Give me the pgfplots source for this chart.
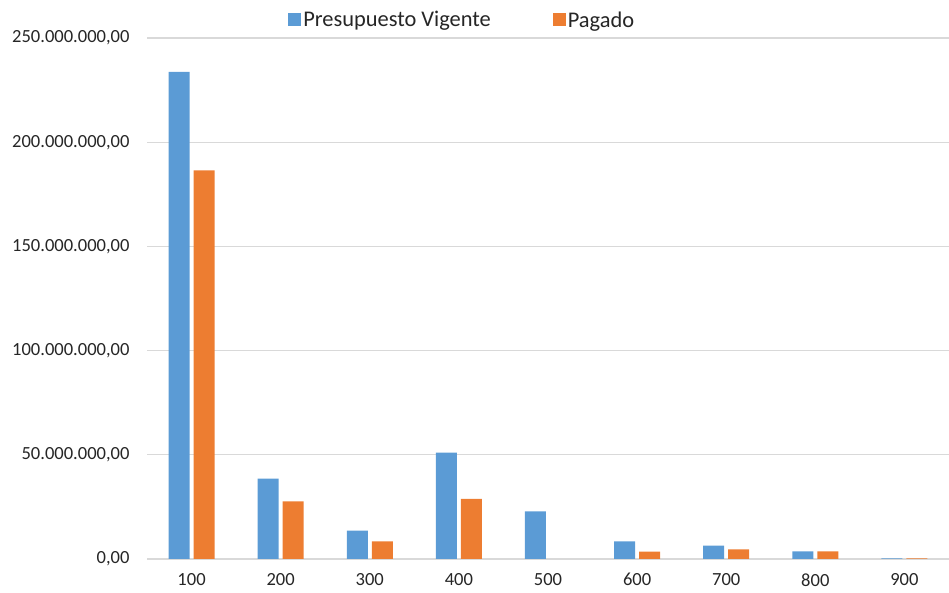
\documentclass[border=0pt]{standalone}
\usepackage{pgfplots}
\pgfplotsset{compat=1.18}
\usepackage{fontspec}
\setmainfont{Carlito}
\definecolor{cblue}{HTML}{5B9BD5}
\definecolor{corange}{HTML}{ED7D31}
\definecolor{cgrid}{HTML}{D9D9D9}
\definecolor{ctext}{HTML}{262626}
\begin{document}
\begin{tikzpicture}
\path[use as bounding box] (0,0) rectangle (949bp,593bp);
\begin{axis}[
  at={(147bp,34bp)}, anchor=south west,
  scale only axis, width=802bp, height=521bp,
  ybar, bar width=21bp,
  xmin=0.5, xmax=9.5, ymin=0, ymax=250,
  xtick={1,...,9},
  xticklabels={100,200,300,400,500,600,700,800,900},
  ytick={0,50,100,150,200,250},
  yticklabels={{0,00},{50.000.000,00},{100.000.000,00},{150.000.000,00},{200.000.000,00},{250.000.000,00}},
  ymajorgrids, grid style={cgrid, line width=1.2pt},
  axis line style={draw=none},
  tick style={draw=none},
  ticklabel style={font=\fontsize{18.6}{22}\selectfont, text=ctext},
  yticklabel style={xshift=-14bp},
  xticklabel style={yshift=-9bp, inner sep=1bp},
  legend style={at={(0.393,1.0)}, anchor=center, yshift=18bp, draw=none, legend columns=2,
    font=\fontsize{22.5}{26}\selectfont, text=ctext,
    /tikz/every even column/.append style={column sep=60bp}},
  legend image code/.code={\fill[#1] (0bp,-6.5bp) rectangle (13bp,6.5bp);},
]
\addplot[fill=cblue, draw=none, bar shift=-12.5bp] coordinates {
(1,233.8) (2,38.6) (3,13.6) (4,51.1) (5,22.8) (6,8.5) (7,6.4) (8,3.6) (9,0.3)};
\addplot[fill=corange, draw=none, bar shift=12.5bp] coordinates {
(1,186.5) (2,27.6) (3,8.4) (4,28.9) (5,0) (6,3.5) (7,4.6) (8,3.6) (9,0.3)};
\legend{Presupuesto Vigente, Pagado}
\end{axis}
\end{tikzpicture}
\end{document}
